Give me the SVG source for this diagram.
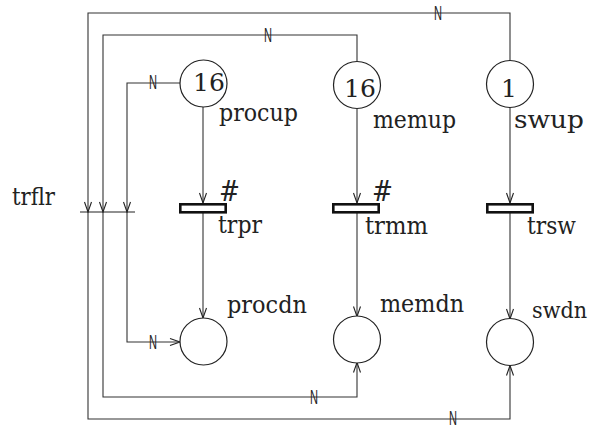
<svg xmlns="http://www.w3.org/2000/svg" width="594" height="430" viewBox="0 0 594 430">
<defs>
<style>
.bg{fill:#fff}
.arc{fill:none;stroke:#333;stroke-width:1.1}
.pl{fill:#fff;stroke:#222;stroke-width:1.2}
.tr{fill:#fff;stroke:#111;stroke-width:2.6}
.bar{stroke:#222;stroke-width:1.2}
.lbl{font-size:25px;fill:#222}
.sm{font-size:22px}
.hash{font-size:28px;fill:#222}
.tok{font-size:25px;fill:#222;text-anchor:middle}
.n{font-size:20px;fill:#222}
</style>
<marker id="ah" markerWidth="12" markerHeight="10" viewBox="-11 -5 12 10" refX="0" refY="0" orient="auto" markerUnits="userSpaceOnUse">
<path d="M-10,-3.5 L0,0 L-10,3.5" fill="none" stroke="#222" stroke-width="1.1"/>
</marker>
</defs>
<rect class="bg" width="594" height="430"/>
<g id="connectors">
<path class="arc" d="M510,60 V13 H88 V212" marker-end="url(#ah)"/>
<path class="arc" d="M88,212 V419 H510 V365.5" marker-end="url(#ah)"/>
<path class="arc" d="M357,61 V35 H103 V212" marker-end="url(#ah)"/>
<path class="arc" d="M103,212 V397 H357 V362.5" marker-end="url(#ah)"/>
<path class="arc" d="M180,83 H127 V212" marker-end="url(#ah)"/>
<path class="arc" d="M127,212 V342 H180" marker-end="url(#ah)"/>
<path class="arc" d="M203,107 V203" marker-end="url(#ah)"/>
<path class="arc" d="M203,213 V318" marker-end="url(#ah)"/>
<path class="arc" d="M357,109 V203" marker-end="url(#ah)"/>
<path class="arc" d="M357,213 V316.5" marker-end="url(#ah)"/>
<path class="arc" d="M510,108 V203" marker-end="url(#ah)"/>
<path class="arc" d="M510,213 V319" marker-end="url(#ah)"/>
<g font-family="Liberation Sans, Arial, sans-serif">
<text class="n" x="434" y="20" textLength="8" lengthAdjust="spacingAndGlyphs">N</text>
<text class="n" x="264" y="42" textLength="8" lengthAdjust="spacingAndGlyphs">N</text>
<text class="n" x="149" y="89" textLength="8" lengthAdjust="spacingAndGlyphs">N</text>
<text class="n" x="149" y="349" textLength="8" lengthAdjust="spacingAndGlyphs">N</text>
<text class="n" x="310" y="404" textLength="8" lengthAdjust="spacingAndGlyphs">N</text>
<text class="n" x="449" y="425" textLength="8" lengthAdjust="spacingAndGlyphs">N</text>
</g>
</g>
<g font-family="DejaVu Serif, Liberation Serif, serif">
<g id="trflr">
<line class="bar" x1="80" y1="212" x2="135" y2="212"/>
<text class="lbl" x="12" y="205" textLength="43" lengthAdjust="spacingAndGlyphs">trflr</text>
</g>
<g id="procup">
<circle class="pl" cx="203.5" cy="83.5" r="23.5"/>
<text class="tok" x="209" y="91">16</text>
<text class="lbl" x="219" y="121" textLength="79" lengthAdjust="spacingAndGlyphs">procup</text>
</g>
<g id="memup">
<circle class="pl" cx="357" cy="85" r="23.5"/>
<text class="tok" x="360" y="97">16</text>
<text class="lbl" x="373" y="128" textLength="83" lengthAdjust="spacingAndGlyphs">memup</text>
</g>
<g id="swup">
<circle class="pl" cx="510" cy="84" r="23.5"/>
<text class="tok" x="509" y="97">1</text>
<text class="lbl" x="514" y="128" textLength="70" lengthAdjust="spacingAndGlyphs">swup</text>
</g>
<g id="trpr">
<rect class="tr" x="180.3" y="204.3" width="45.4" height="8"/>
<text class="hash" x="219" y="201" textLength="21" lengthAdjust="spacingAndGlyphs">#</text>
<text class="lbl" x="218" y="233" textLength="44" lengthAdjust="spacingAndGlyphs">trpr</text>
</g>
<g id="trmm">
<rect class="tr" x="333.3" y="204.3" width="45.4" height="8"/>
<text class="hash" x="372" y="201" textLength="21" lengthAdjust="spacingAndGlyphs">#</text>
<text class="lbl" x="365" y="234" textLength="63" lengthAdjust="spacingAndGlyphs">trmm</text>
</g>
<g id="trsw">
<rect class="tr" x="487.3" y="204.3" width="45.4" height="8"/>
<text class="lbl" x="527" y="234" textLength="49" lengthAdjust="spacingAndGlyphs">trsw</text>
</g>
<g id="procdn">
<circle class="pl" cx="203.5" cy="341.5" r="23.5"/>
<text class="lbl" x="227" y="313" textLength="80" lengthAdjust="spacingAndGlyphs">procdn</text>
</g>
<g id="memdn">
<circle class="pl" cx="357" cy="339.5" r="23.5"/>
<text class="lbl" x="380" y="312" textLength="84" lengthAdjust="spacingAndGlyphs">memdn</text>
</g>
<g id="swdn">
<circle class="pl" cx="510" cy="342" r="23.5"/>
<text class="lbl sm" x="532" y="318" textLength="55" lengthAdjust="spacingAndGlyphs">swdn</text>
</g>
</g>
</svg>
